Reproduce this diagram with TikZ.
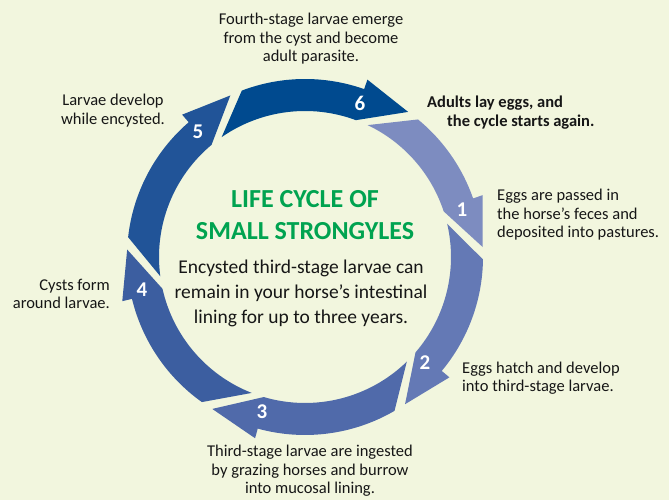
\documentclass[tikz,border=0pt]{standalone}
\usepackage{fontspec}
\setmainfont{Carlito}
\usepackage{xcolor}
\tikzset{>=latex}
\definecolor{bgcream}{RGB}{242,246,222}
\definecolor{txtdark}{RGB}{22,22,22}
\definecolor{titlegreen}{RGB}{0,163,80}
\definecolor{arrA}{RGB}{125,140,192}
\definecolor{arrB}{RGB}{100,121,181}
\definecolor{arrC}{RGB}{80,106,170}
\definecolor{arrD}{RGB}{60,94,160}
\definecolor{arrE}{RGB}{33,84,152}
\definecolor{arrF}{RGB}{0,74,143}
\tikzset{
  note/.style={font=\fontsize{16.5bp}{18.5bp}\selectfont, text=txtdark, inner sep=0pt},
  num/.style={font=\bfseries\fontsize{21bp}{21bp}\selectfont, text=white, inner sep=0pt}
}

\begin{document}
\begin{tikzpicture}[x=1bp,y=1bp]
\useasboundingbox (0,0) rectangle (669,500);
\fill[bgcream] (0,0) rectangle (669,500);

\begin{scope}[shift={(305,243)}]
% arrows of the cycle, outer radius 178, inner 146
\fill[arrA] (50.6:178) arc[start angle=50.6, end angle=19.2, radius=178] -- (19.2:188) -- (3.2:178) -- (18.2:146) arc[start angle=18.2, end angle=64.6, radius=146] -- cycle;
\fill[arrB] (-0.8:178) arc[start angle=-0.8, end angle=-39.8, radius=178] -- (-39.8:188) -- (-55.8:178) -- (-40.8:146) arc[start angle=-40.8, end angle=13.2, radius=146] -- cycle;
\fill[arrC] (-59.8:178) arc[start angle=-59.8, end angle=-105.4, radius=178] -- (-105.4:188) -- (-121.4:178) -- (-106.4:146) arc[start angle=-106.4, end angle=-45.8, radius=146] -- cycle;
\fill[arrD] (234.6:178) arc[start angle=234.6, end angle=193.6, radius=178] -- (193.6:188) -- (177.6:178) -- (192.6:146) arc[start angle=192.6, end angle=248.6, radius=146] -- cycle;
\fill[arrE] (173.6:178) arc[start angle=173.6, end angle=130.8, radius=178] -- (130.8:188) -- (114.8:178) -- (129.8:146) arc[start angle=129.8, end angle=187.6, radius=146] -- cycle;
\fill[arrF] (110.8:178) arc[start angle=110.8, end angle=70.6, radius=178] -- (70.6:188) -- (54.6:178) -- (69.6:146) arc[start angle=69.6, end angle=124.8, radius=146] -- cycle;
\end{scope}

\node[num] (n1) at (462,290) {1};
\node[num] (n2) at (425,137) {2};
\node[num] (n3) at (262,88) {3};
\node[num] (n4) at (142,210) {4};
\node[num] (n5) at (198,368) {5};
\node[num] (n6) at (360,397) {6};

% centre
\node[font=\bfseries\fontsize{26bp}{32bp}\selectfont, text=titlegreen, align=center, inner sep=0pt] (title) at (305,285) {LIFE CYCLE OF\\SMALL STRONGYLES};
\node[font=\fontsize{19.5bp}{25bp}\selectfont, text=txtdark, align=center, inner sep=0pt] (body) at (301,207) {Encysted third-stage larvae can\\remain in your horse's intestinal\\lining for up to three years.};

% stage notes
\node[note, align=center] (top) at (311,461) {Fourth-stage larvae emerge\\from the cyst and become\\adult parasite.};
\node[note, font=\bfseries\fontsize{16.5bp}{18.5bp}\selectfont, align=left, anchor=west] (adults) at (427,387.5) {Adults lay eggs, and\\\hspace*{20bp}the cycle starts again.};
\node[note, align=left, anchor=west] (eggs) at (497,285) {Eggs are passed in\\the horse’s feces and\\deposited into pastures.};
\node[note, align=left, anchor=west] (hatch) at (462,122) {Eggs hatch and develop\\into third-stage larvae.};
\node[note, align=center] (ingest) at (310,29) {Third-stage larvae are ingested\\by grazing horses and burrow\\into mucosal lining.};
\node[note, align=right, anchor=east] (cysts) at (110,206) {Cysts form\\around larvae.};
\node[note, align=center] (develop) at (113,389.5) {Larvae develop\\while encysted.};
\end{tikzpicture}
\end{document}
